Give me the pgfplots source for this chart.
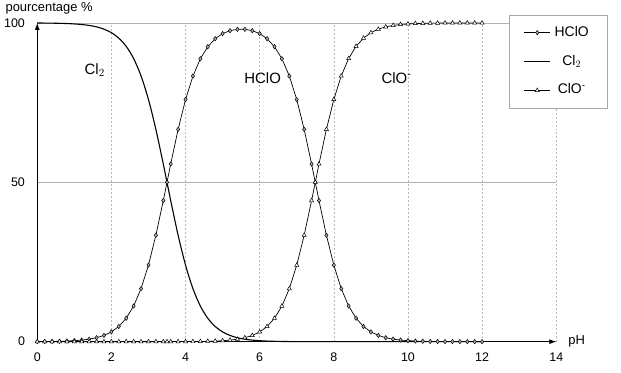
\documentclass[border=0pt]{standalone}
\usepackage{pgfplots}
\pgfplotsset{compat=1.18}
\usepackage{fontspec}
\setmainfont{Liberation Sans}
\usetikzlibrary{arrows.meta}
\begin{document}
\fontsize{12.5}{14}\selectfont
\begin{tikzpicture}
\begin{axis}[
  at={(0,0)}, anchor=south west,
  scale only axis, width=521pt, height=320pt,
  xmin=0, xmax=14, ymin=0, ymax=100,
  axis lines=left,
  axis line style={black, line width=0.9pt, -{Latex[length=7pt,width=5pt]}},
  xtick={0,2,...,14}, ytick={0,50,100},
  major tick length=0pt,
  tick label style={font=\fontsize{12.5}{14}\selectfont},
  /pgf/number format/assume math mode=true,
  xticklabel style={yshift=-7pt},
  yticklabel style={xshift=-8pt},
  grid=major,
  x grid style={gray!55, dashed, dash pattern=on 2pt off 2pt},
  y grid style={gray!60},
  clip=false,
  legend cell align=center,
  legend image code/.code={\draw[mark repeat=2,mark phase=2,#1] plot coordinates {(0pt,0pt) (13pt,0pt) (26pt,0pt)};},
  legend style={at={(rel axis cs:0.908,1.025)}, anchor=north west, draw=gray!70, line width=0.6pt,
    font=\fontsize{14}{16}\selectfont, row sep=14pt, inner xsep=15pt, inner ysep=10pt,
    nodes={text width=40pt, align=center, inner xsep=1pt, inner ysep=1pt, text height=10pt, text depth=3pt}},
]
\addplot[black, line width=0.7pt, mark=diamond*, mark size=2.2pt, mark options={fill=gray!60, line width=0.5pt}] coordinates {
(0,0.03)(0.2,0.05)(0.4,0.08)(0.6,0.13)(0.8,0.20)(1.0,0.32)(1.2,0.50)(1.4,0.79)(1.6,1.24)(1.8,1.96)
(2.0,3.07)(2.2,4.77)(2.4,7.36)(2.6,11.18)(2.8,16.64)(3.0,24.03)(3.2,33.39)(3.4,44.27)(3.5,50)(3.6,55.73)(3.8,66.60)
(4.0,75.96)(4.2,83.33)(4.4,88.76)(4.6,92.53)(4.8,95.05)(5.0,96.64)(5.2,97.56)(5.4,97.99)(5.6,97.99)(5.8,97.56)
(6.0,96.64)(6.2,95.05)(6.4,92.53)(6.6,88.76)(6.8,83.33)(7.0,75.96)(7.2,66.60)(7.4,55.73)(7.5,50)(7.6,44.27)(7.8,33.39)
(8.0,24.03)(8.2,16.64)(8.4,11.18)(8.6,7.36)(8.8,4.77)(9.0,3.07)(9.2,1.96)(9.4,1.24)(9.6,0.79)(9.8,0.50)
(10.0,0.32)(10.2,0.20)(10.4,0.13)(10.6,0.08)(10.8,0.05)(11.0,0.03)(11.2,0.02)(11.4,0.01)(11.6,0.01)(11.8,0.01)(12.0,0.00)
};
\addlegendentry{HClO}
\addplot[black, line width=1.1pt, smooth] coordinates {
(0,99.97)(0.2,99.95)(0.4,99.92)(0.6,99.87)(0.8,99.80)(1.0,99.68)(1.2,99.50)(1.4,99.21)(1.6,98.76)(1.8,98.04)
(2.0,96.93)(2.2,95.23)(2.4,92.64)(2.6,88.82)(2.8,83.36)(3.0,75.97)(3.2,66.61)(3.4,55.73)(3.5,50)(3.6,44.27)(3.8,33.39)
(4.0,24.02)(4.2,16.63)(4.4,11.17)(4.6,7.35)(4.8,4.76)(5.0,3.06)(5.2,1.95)(5.4,1.23)(5.6,0.78)(5.8,0.49)
(6.0,0.31)(6.2,0.19)(6.4,0.12)(6.6,0.07)(6.8,0.04)(7.0,0.02)(7.2,0.01)(7.4,0.00)(7.6,0.00)(7.8,0.00)
(8.0,0)(8.5,0)(9,0)(9.5,0)(10,0)(10.5,0)(11,0)(11.5,0)(12,0)
};
\addlegendentry{Cl$_2$}
\addplot[black, line width=0.7pt, mark=triangle*, mark size=2.4pt, mark options={fill=white, line width=0.5pt}] coordinates {
(0,0.00)(0.2,0.00)(0.4,0.00)(0.6,0.00)(0.8,0.00)(1.0,0.00)(1.2,0.00)(1.4,0.00)(1.6,0.00)(1.8,0.00)
(2.0,0.00)(2.2,0.00)(2.4,0.00)(2.6,0.00)(2.8,0.00)(3.0,0.00)(3.2,0.00)(3.4,0.00)(3.5,0.00)(3.6,0.01)(3.8,0.01)
(4.0,0.02)(4.2,0.04)(4.4,0.07)(4.6,0.12)(4.8,0.19)(5.0,0.31)(5.2,0.49)(5.4,0.78)(5.6,1.23)(5.8,1.95)
(6.0,3.06)(6.2,4.76)(6.4,7.35)(6.6,11.17)(6.8,16.63)(7.0,24.02)(7.2,33.39)(7.4,44.27)(7.5,50)(7.6,55.73)(7.8,66.61)
(8.0,75.97)(8.2,83.36)(8.4,88.82)(8.6,92.64)(8.8,95.23)(9.0,96.93)(9.2,98.04)(9.4,98.76)(9.6,99.21)(9.8,99.50)
(10.0,99.68)(10.2,99.80)(10.4,99.87)(10.6,99.92)(10.8,99.95)(11.0,99.97)(11.2,99.98)(11.4,99.99)(11.6,99.99)(11.8,99.99)(12.0,99.99)
};
\addlegendentry{ClO\textsuperscript{-}}
\node[font=\fontsize{15}{17}\selectfont] at (axis cs:1.55,85.3) {Cl$_2$};
\node[font=\fontsize{15}{17}\selectfont] at (axis cs:6.08,82.8) {HClO};
\node[font=\fontsize{15}{17}\selectfont] at (axis cs:9.69,82.8) {ClO\textsuperscript{-}};
\node[anchor=west, font=\fontsize{13}{15}\selectfont, inner sep=0pt] at (axis cs:14,0) {\hspace{12pt}pH};
\node[anchor=base west, font=\fontsize{13}{15}\selectfont, inner sep=0pt] at ([xshift=-32pt,yshift=11.5pt]rel axis cs:0,1) {pourcentage \%};
\end{axis}
\path (-35pt,-31pt) rectangle (586pt,343pt);
\end{tikzpicture}
\end{document}
